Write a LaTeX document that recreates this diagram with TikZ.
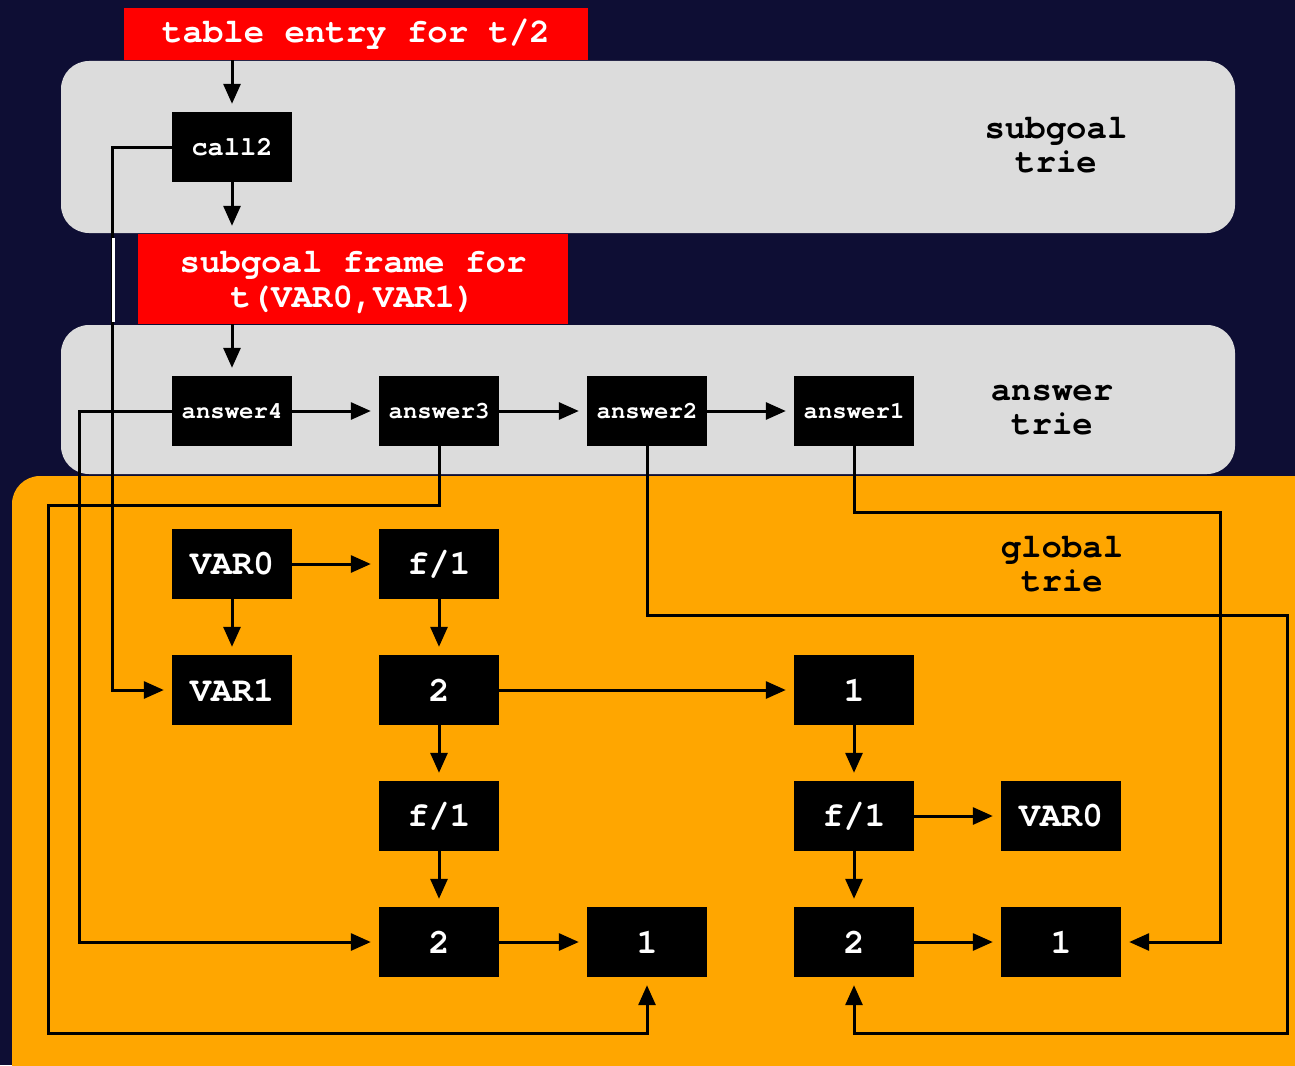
\documentclass[tikz,border=0pt]{standalone}
\usepackage{fontspec}
\newfontfamily\cour{TeX Gyre Cursor}
\usetikzlibrary{arrows.meta}
\definecolor{navy}{RGB}{14,14,52}
\definecolor{triegrey}{RGB}{220,220,220}
\definecolor{globorange}{RGB}{255,166,0}

\begin{document}
\begin{tikzpicture}[x=1pt,y=-1pt,
	cell/.style={fill=black, text=white, minimum width=120pt, minimum height=70pt, inner sep=0pt, font=\cour\bfseries\fontsize{35}{35}\selectfont},
	small/.style={font=\cour\bfseries\fontsize{24}{24}\selectfont},
	mid/.style={font=\cour\bfseries\fontsize{27}{27}\selectfont},
	tag/.style={fill=red, text=white, inner sep=0pt, align=center, font=\cour\bfseries\fontsize{34}{35}\selectfont},
	tagtext/.style={text=white, inner sep=0pt, align=center, font=\cour\bfseries\fontsize{34}{35}\selectfont},
	lbl/.style={align=center, font=\cour\bfseries\fontsize{34}{34}\selectfont},
	link/.style={line width=3pt, -{Triangle[length=20pt,width=17pt]}, shorten >=8pt}]

		% Page and backgrounds
		\clip (0,0) rectangle (1295,1065);
		\fill[navy] (0,0) rectangle (1295,1065);
		\fill[triegrey, rounded corners=28pt] (61,61) rectangle (1235,233);
		\fill[triegrey, rounded corners=28pt] (61,325) rectangle (1235,474);
		\fill[globorange, rounded corners=28pt] (12,476) rectangle (1340,1110);

		% Red tags
		\node[tag, minimum width=464pt, minimum height=52pt] (tab) at (356,34) {table entry for t/2};
		\node[tag, minimum width=430pt, minimum height=90pt] (frame) at (353,279) {};
		\node[tagtext] (frametxt) at (353,283) {subgoal frame for\\t(VAR0,VAR1)};

		% Trie labels
		\node[lbl] (sgl) at (1056,145) {subgoal\\trie};
		\node[lbl] (anl) at (1052,410) {answer\\trie};
		\node[lbl] (gll) at (1062,564) {global\\trie};

		% Subgoal trie and answer trie nodes
		\node[cell, mid] (call) at (232,147) {call2};
		\node[cell, small] (ans4) at (232,411) {answer4};
		\node[cell, small] (ans3) at (439,411) {answer3};
		\node[cell, small] (ans2) at (647,411) {answer2};
		\node[cell, small] (ans1) at (854,411) {answer1};

		% Global trie nodes
		\node[cell] (v0) at (232,564) {VAR0};
		\node[cell] (fa) at (439,564) {f/1};
		\node[cell] (v1) at (232,690) {VAR1};
		\node[cell] (na) at (439,690) {2};
		\node[cell] (nb) at (854,690) {1};
		\node[cell] (fb) at (439,816) {f/1};
		\node[cell] (fc) at (854,816) {f/1};
		\node[cell] (w0) at (1061,816) {VAR0};
		\node[cell] (nc) at (439,942) {2};
		\node[cell] (nd) at (647,942) {1};
		\node[cell] (ne) at (854,942) {2};
		\node[cell] (nf) at (1061,942) {1};

		% Top chain
		\draw[link] (call |- tab.south) -- (call.north);
		\draw[link] (call.south) -- (call |- frame.north);
		\draw[link] (ans4 |- frame.south) -- (ans4.north);
		\draw[link] (ans4) -- (ans3);
		\draw[link] (ans3) -- (ans2);
		\draw[link] (ans2) -- (ans1);

		% Global trie edges
		\draw[link] (v0) -- (fa);
		\draw[link] (v0) -- (v1);
		\draw[link] (fa) -- (na);
		\draw[link] (na) -- (nb);
		\draw[link] (na) -- (fb);
		\draw[link] (fb) -- (nc);
		\draw[link] (nc) -- (nd);
		\draw[link] (nb) -- (fc);
		\draw[link] (fc) -- (w0);
		\draw[link] (fc) -- (ne);
		\draw[link] (ne) -- (nf);

		% Long links into the global trie
		\draw[link] (call.west) -- ++(-59,0) |- (v1.west);
		\draw[white, line width=3pt] (113,238) -- (113,322);
		\draw[link] (ans4.west) -- ++(-92,0) |- (nc.west);
		\draw[link] (ans3.south) |- (48,505) -- (48,1033) -| (nd.south);
		\draw[link] (ans2.south) |- (1287,615) -- (1287,1033) -| (ne.south);
		\draw[link] (ans1.south) |- (1220,512) |- (nf.east);

	\end{tikzpicture}
\end{document}
